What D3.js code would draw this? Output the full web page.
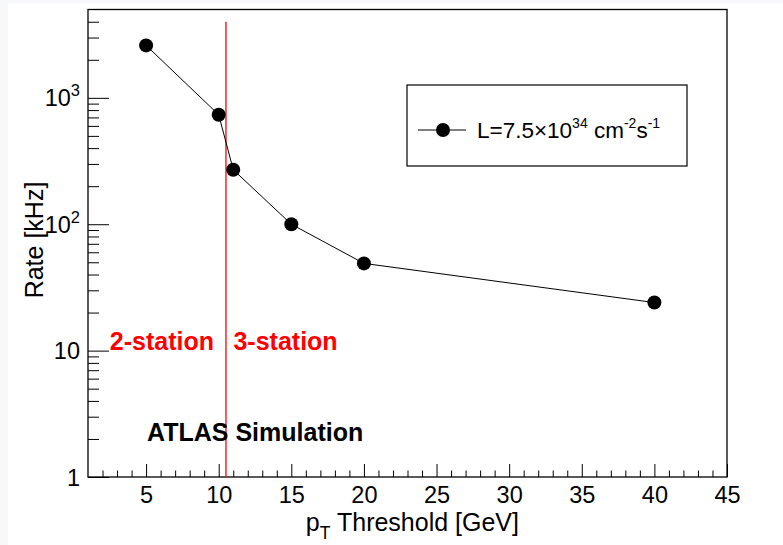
<!DOCTYPE html>
<html>
<head>
<meta charset="utf-8">
<script src="https://cdn.jsdelivr.net/npm/d3@7"></script>
<style>
  body { margin: 0; background: #f6f8fa; }
  svg { display: block; }
  text { font-family: "Liberation Sans", Arial, sans-serif; }
</style>
</head>
<body>
<svg id="chart" width="783" height="545"></svg>
<script>
// data
const thresholds = [5, 10, 11, 15, 20, 40];          // pT threshold [GeV]
const rates      = [2600, 735, 270, 100, 49, 24];    // rate [kHz]
const xTickValues = [5, 10, 15, 20, 25, 30, 35, 40, 45];
const yTickValues = [1, 10, 100, 1000];
const yTickExp    = [null, null, 2, 3];              // null -> plain number
const stationCut  = 10.5;

const WIDTH = 783, HEIGHT = 545;
const MARGIN_LEFT = 88, MARGIN_RIGHT = 56, MARGIN_TOP = 9.5, MARGIN_BOT = 68;
const TICK_FONT = 23.5;
const TITLE_FONT = 25;

const svg = d3.select("#chart");

// page background (slight grey border like the screenshot)
svg.append("rect").attr("x", 8).attr("y", 3)
	.attr("width", WIDTH - 8).attr("height", HEIGHT - 3).attr("fill", "white");

const x = d3.scaleLinear().domain([1, 45]).range([MARGIN_LEFT, WIDTH - MARGIN_RIGHT]);
const y = d3.scaleLog().domain([1, 5000]).range([HEIGHT - MARGIN_BOT, MARGIN_TOP]);

// minor tick lists
const xMinor = d3.range(2, 45).filter(v => v % 5 !== 0);
const yMinor = [];
[1, 10, 100, 1000].forEach(dec => {
	for (let k = 2; k <= 9; k++) if (dec * k < 5000) yMinor.push(dec * k);
});

const g = svg.append("g");

// x axis, ticks pointing inwards
const xAxis = g.append("g")
	.attr("transform", "translate(0," + (HEIGHT - MARGIN_BOT) + ")");
xAxis.call(d3.axisBottom(x).tickValues(xTickValues).tickSize(-13).tickPadding(12));
xAxis.append("g").call(d3.axisBottom(x).tickValues(xMinor).tickSize(-6.5).tickFormat(""));
xAxis.selectAll(".domain").remove();
xAxis.selectAll("text")
	.attr("font-size", TICK_FONT).attr("fill", "black")
	.attr("font-family", "Liberation Sans, Arial, sans-serif")
	.attr("dy", "0.75em").attr("y", 8);

// y axis
const yAxis = g.append("g").attr("transform", "translate(" + MARGIN_LEFT + ",0)");
yAxis.call(d3.axisLeft(y).tickValues(yTickValues).tickSize(-21).tickFormat(""));
yAxis.append("g").call(d3.axisLeft(y).tickValues(yMinor).tickSize(-11).tickFormat(""));
yAxis.selectAll(".domain").remove();
g.selectAll(".tick line").attr("stroke", "black").attr("stroke-width", 1);

// y tick labels with superscripts
yTickValues.forEach((v, i) => {
	const t = g.append("text")
		.attr("x", MARGIN_LEFT - 8)
		.attr("y", y(v) + 8.5)
		.attr("text-anchor", "end")
		.attr("font-size", TICK_FONT);
	if (yTickExp[i] === null) {
		t.text(v);
	} else {
		t.append("tspan").text("10");
		t.append("tspan").attr("font-size", TICK_FONT * 0.7).attr("dy", -10).text(yTickExp[i]);
	}
});

// frame
g.append("rect")
	.attr("x", MARGIN_LEFT).attr("y", MARGIN_TOP)
	.attr("width", WIDTH - MARGIN_RIGHT - MARGIN_LEFT)
	.attr("height", HEIGHT - MARGIN_BOT - MARGIN_TOP)
	.attr("fill", "none").attr("stroke", "black").attr("stroke-width", 1.3);

// axis titles
const xt = g.append("text")
	.attr("x", 519).attr("y", 531)
	.attr("text-anchor", "end")
	.attr("font-size", TITLE_FONT);
xt.append("tspan").text("p");
xt.append("tspan").attr("font-size", TITLE_FONT * 0.7).attr("dy", 8).text("T");
xt.append("tspan").attr("dy", -8).text(" Threshold [GeV]");

g.append("text")
	.attr("transform", "translate(43,240) rotate(-90)")
	.attr("text-anchor", "middle")
	.attr("font-size", TITLE_FONT)
	.text("Rate [kHz]");

// 2/3-station boundary
g.append("line")
	.attr("x1", x(stationCut)).attr("x2", x(stationCut))
	.attr("y1", y(1)).attr("y2", y(4000))
	.attr("stroke", "red").attr("stroke-width", 1.3);

g.append("text")
	.attr("x", x(stationCut) - 12).attr("y", y(10) - 0.5)
	.attr("text-anchor", "end")
	.attr("font-size", TITLE_FONT).attr("font-weight", "bold").attr("fill", "red")
	.text("2-station");
g.append("text")
	.attr("x", x(stationCut) + 7.5).attr("y", y(10) - 0.5)
	.attr("font-size", TITLE_FONT).attr("font-weight", "bold").attr("fill", "red")
	.text("3-station");

g.append("text")
	.attr("x", 147).attr("y", 441)
	.attr("font-size", TITLE_FONT).attr("font-weight", "bold")
	.text("ATLAS Simulation");

// data line + markers
const pts = thresholds.map((t, i) => [t, rates[i]]);
g.append("path")
	.datum(pts)
	.attr("fill", "none").attr("stroke", "black").attr("stroke-width", 1)
	.attr("d", d3.line().x(d => x(d[0])).y(d => y(d[1])));
g.selectAll(".dot")
	.data(pts)
  .enter().append("circle")
	.attr("class", "dot")
	.attr("cx", d => x(d[0]))
	.attr("cy", d => y(d[1]))
	.attr("r", 7)
	.attr("fill", "black");

// legend
const leg = g.append("g").attr("transform", "translate(407,85)");
leg.append("rect")
	.attr("width", 280).attr("height", 81)
	.attr("fill", "white").attr("stroke", "black").attr("stroke-width", 1.2);
leg.append("line").attr("x1", 11).attr("x2", 59).attr("y1", 45).attr("y2", 45)
	.attr("stroke", "black");
leg.append("circle").attr("cx", 36).attr("cy", 45).attr("r", 7).attr("fill", "black");
const lt = leg.append("text").attr("x", 70).attr("y", 53).attr("font-size", 22.5);
lt.append("tspan").text("L=7.5\u00d710");
lt.append("tspan").attr("font-size", 14).attr("dy", -10).text("34");
lt.append("tspan").attr("dy", 10).text(" cm");
lt.append("tspan").attr("font-size", 14).attr("dy", -10).text("-2");
lt.append("tspan").attr("dy", 10).text("s");
lt.append("tspan").attr("font-size", 14).attr("dy", -10).text("-1");
</script>
</body>
</html>
